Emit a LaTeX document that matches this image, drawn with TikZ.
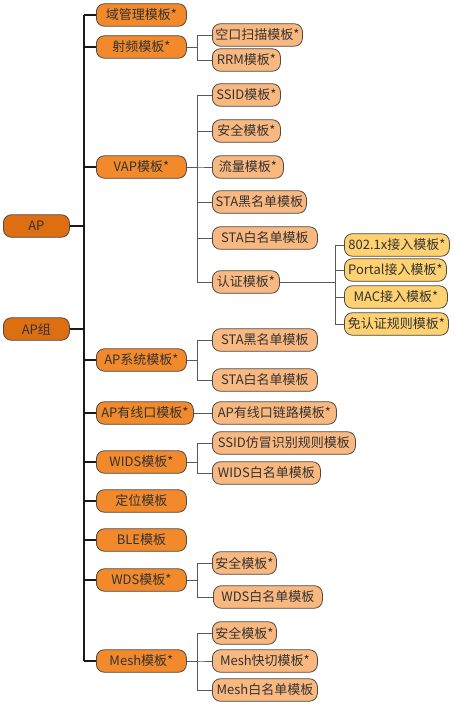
\documentclass[tikz,border=0pt]{standalone}
\usepackage{fontspec}
\setmainfont{Noto Sans CJK SC}
\definecolor{cA}{HTML}{DD6E12}
\definecolor{cB}{HTML}{F28A2C}
\definecolor{cC}{HTML}{F9B880}
\definecolor{cD}{HTML}{FFD170}
\definecolor{bord}{HTML}{4A4A4A}
\definecolor{txt}{HTML}{333333}
\tikzset{
  box/.style={draw=bord, line width=0.8pt, rounded corners=8pt, minimum height=22.5pt, inner sep=0pt, anchor=west, text=txt, font=\fontsize{13}{15}\selectfont},
  lA/.style={box, fill=cA, minimum width=66pt},
  lB/.style={box, fill=cB, minimum width=90pt},
  lC/.style={box, fill=cC},
  lD/.style={box, fill=cD},
  trunk/.style={line width=1.6pt, draw=black!90},
  conn/.style={line width=0.9pt, draw=black!65},
}
\begin{document}
\begin{tikzpicture}[x=1pt,y=-1pt]
\useasboundingbox (0,0) rectangle (453,706);
% level 1
\node[lA] (ap) at (3,226) {AP};
\node[lA] (apg) at (3,329) {AP组};
% level 2
\node[lB] (dom) at (96,15) {域管理模板*};
\node[lB] (rf) at (96,47) {射频模板*};
\node[lB] (vap) at (96,167) {VAP模板*};
\node[lB] (sys) at (96,360) {AP系统模板*};
\node[lB, minimum width=97pt] (wired) at (96,413) {AP有线口模板*};
\node[lB] (wids) at (96,462) {WIDS模板*};
\node[lB] (loc) at (96,501) {定位模板};
\node[lB] (ble) at (96,540) {BLE模板};
\node[lB] (wds) at (96,580) {WDS模板*};
\node[lB] (mesh) at (96,661) {Mesh模板*};
% level 3
\node[lC, minimum width=90pt] (scan) at (212,35) {空口扫描模板*};
\node[lC, minimum width=68pt] (rrm) at (212,60) {RRM模板*};
\node[lC, minimum width=68pt] (ssid) at (212,95) {SSID模板*};
\node[lC, minimum width=68pt] (sec1) at (212,131) {安全模板*};
\node[lC, minimum width=71pt] (flow) at (212,167) {流量模板*};
\node[lC, minimum width=94pt] (black1) at (212,202) {STA黑名单模板};
\node[lC, minimum width=105pt] (white1) at (212,238) {STA白名单模板};
\node[lC, minimum width=67pt] (auth) at (212,282) {认证模板*};
\node[lC, minimum width=105pt] (black2) at (212,340) {STA黑名单模板};
\node[lC, minimum width=105pt] (white2) at (212,380) {STA白名单模板};
\node[lC, minimum width=124pt] (link) at (212,413) {AP有线口链路模板*};
\node[lC, minimum width=143pt] (fake) at (212,443) {SSID仿冒识别规则模板};
\node[lC, minimum width=108pt] (wwhite) at (212,473) {WIDS白名单模板};
\node[lC, minimum width=64pt] (sec2) at (212,563) {安全模板*};
\node[lC, minimum width=109pt] (dwhite) at (213,597) {WDS白名单模板};
\node[lC, minimum width=64pt] (sec3) at (212,633) {安全模板*};
\node[lC, minimum width=105pt] (fast) at (212,661) {Mesh快切模板*};
\node[lC, minimum width=105pt] (mwhite) at (212,690) {Mesh白名单模板};
% level 4
\node[lD, minimum width=105pt] (dot1x) at (344,245) {802.1x接入模板*};
\node[lD, minimum width=102pt] (portal) at (344,270) {Portal接入模板*};
\node[lD, minimum width=103pt] (mac) at (344,297) {MAC接入模板*};
\node[lD, minimum width=104pt] (free) at (344,324) {免认证规则模板*};
% bus coordinates
\coordinate (t) at (84,0);
\coordinate (b) at (197,0);
\coordinate (c) at (335,0);
% trunk
\draw[trunk] (dom.west -| t) -- (mesh.west -| t);
\foreach \n in {dom,rf,vap,sys,wired,wids,loc,ble,wds,mesh}
  \draw[trunk] (\n.west) -- (\n.west -| t);
\draw[trunk] (ap.east) -- (ap.east -| t);
\draw[trunk] (apg.east) -- (apg.east -| t);
% level 2 -> 3
\foreach \p/\k in {rf/scan,rf/rrm,vap/ssid,vap/sec1,vap/flow,vap/black1,vap/white1,vap/auth,sys/black2,sys/white2,wids/fake,wids/wwhite,wds/sec2,wds/dwhite,mesh/sec3,mesh/fast,mesh/mwhite}
  \draw[conn] (\p.east) -- (\p.east -| b) |- (\k.west);
\draw[conn] (wired.east) -- (link.west);
% level 3 -> 4
\foreach \k in {dot1x,portal,mac,free}
  \draw[conn] (auth.east) -- (auth.east -| c) |- (\k.west);
\end{tikzpicture}
\end{document}
